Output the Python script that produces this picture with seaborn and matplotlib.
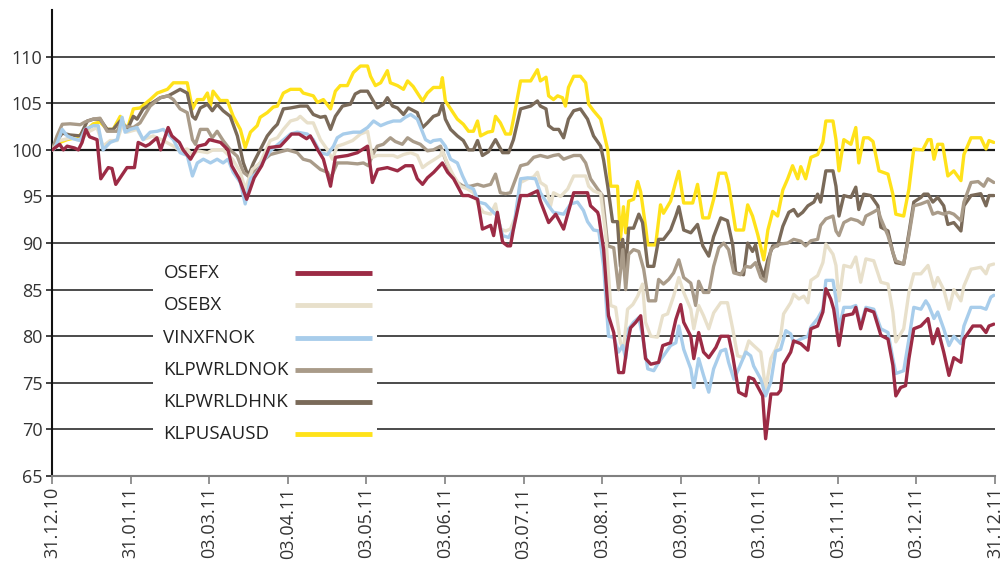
import numpy as np
import pandas as pd
import matplotlib
matplotlib.use('Agg')
import matplotlib.pyplot as plt
import seaborn as sb

# Index values (31.12.10 = 100).
# x is the trading day counted from 31.12.10 (21 trading days per tick).
osefx_day = [0, 2, 3, 4, 6, 7, 8, 9, 10, 12, 13, 15, 16, 17, 20, 22, 23, 25, 26, 28, 29, 31, 32, 34, 35,
             37, 39, 41, 42, 45, 47, 48, 50, 52, 54, 56, 58, 61, 64, 66, 68, 69, 71, 72.5, 74.4, 75.7,
             79, 81.6, 84.3, 85.6, 87, 89.6, 92.3, 94.4, 96.3, 97.6, 99, 100.3, 102, 104.3, 105.7,
             107.3, 109.7, 111.3, 113.7, 115, 117.2, 118, 119, 120.4, 121.7, 122.5, 123.3, 125.2,
             127.1, 129.7, 130.5, 132.7, 134.6, 136.7, 139.4, 141.2, 143.1, 143.9, 145.8, 146.1,
             147.4, 148.7, 150.1, 151.4, 152.7, 153.8, 154.6, 156, 157.3, 158.6, 160, 162.1, 163.2,
             165.3, 166.7, 168, 168.8, 170.7, 171.5, 172.8, 174.1, 175.5, 177.4, 178.7, 180.8,
             181.9, 183.5, 185.4, 186.2, 187.5, 189.9, 190.7, 192.1, 193.9, 194.7, 195.5, 197.4,
             198.2, 200.1, 202, 202.8, 204.6, 206, 206.8, 208.1, 208.9, 210.3, 211.6, 214, 214.8,
             216.1, 217.5, 219.6, 221.5, 223.4, 224.7, 225.5, 226.8, 228.1, 229, 230.3, 232.2,
             234.1, 235.4, 236.7, 238.3, 239.7, 241, 242.9, 243.7, 246.1, 248.2, 249.6, 250.4, 251.7]
osefx = [100.0, 100.6, 100.0, 100.4, 100.2, 100.0, 100.8, 102.2, 101.4, 101.1, 96.9, 98.1, 98.0, 96.3,
         98.1, 98.1, 100.8, 100.4, 100.6, 101.3, 100.0, 102.4, 101.5, 100.8, 100.0, 99.0, 100.4,
         100.6, 101.1, 100.8, 100.0, 98.3, 96.9, 94.7, 97.0, 98.3, 100.25, 100.4, 101.7, 101.7,
         101.2, 101.5, 100.0, 99.0, 96.1, 99.2, 99.4, 99.7, 100.4, 96.5, 97.9, 98.1, 97.75, 98.3,
         98.3, 96.9, 96.3, 97.0, 97.6, 98.6, 97.6, 96.9, 95.1, 95.1, 94.7, 91.5, 91.9, 90.8, 93.3,
         90.1, 89.7, 89.7, 91.5, 95.1, 95.1, 95.6, 94.5, 92.2, 93.1, 91.5, 95.4, 95.4, 95.4, 94.0,
         93.3, 92.9, 89.3, 82.2, 80.4, 76.1, 76.1, 79.3, 80.9, 81.5, 82.2, 77.6, 77.0, 77.2, 79.0,
         79.3, 81.8, 83.4, 81.5, 80.0, 77.6, 80.4, 78.3, 77.7, 78.8, 80.0, 80.0, 77.9, 74.0, 73.6,
         75.6, 75.4, 73.6, 69.0, 73.8, 73.8, 74.2, 77.0, 78.3, 79.5, 79.2, 78.5, 80.8, 81.1, 82.6,
         85.1, 84.0, 82.9, 79.0, 82.2, 82.4, 83.1, 80.8, 82.9, 82.6, 80.1, 79.7, 76.9, 73.6, 74.5,
         74.7, 77.6, 80.8, 81.1, 81.9, 79.2, 80.8, 78.3, 75.8, 77.7, 77.2, 79.7, 81.1, 81.1, 80.4,
         81.1, 81.3]

osebx_day = [0, 2, 5, 7.5, 10, 12, 13.6, 15.5, 17.4, 18.7, 20, 22.7, 24.3, 27, 29.7, 32.4, 34.2, 36.1,
             37.5, 38.8, 41.5, 43, 45.7, 48.2, 50.3, 51.6, 53.5, 55.6, 58.3, 60.2, 61.8, 63.7, 65.5,
             66.3, 68.2, 69.8, 71.7, 73.6, 74.9, 76.2, 77.8, 80.3, 82.4, 84.3, 85.6, 86.9, 88.5, 91.2,
             92.3, 93.9, 95.8, 97.6, 99, 100.3, 101.9, 103.8, 104.3, 105.7, 107.3, 109.1, 111, 112.6,
             114, 115.3, 117.2, 118.5, 119.8, 121.2, 122.5, 123.9, 125.2, 127.1, 128.7, 129.7, 130.5,
             132, 133.2, 134, 135.9, 137.8, 139.4, 141.2, 142.6, 143.4, 144.7, 146.6, 147.9, 149.3,
             150.6, 151.9, 152.7, 153.8, 155.2, 156.5, 157.8, 158.6, 160, 161.8, 163.2, 164.5, 166.1,
             167.5, 168.8, 170.7, 171.5, 172.8, 174.1, 175.5, 176.8, 178.7, 180.5, 181.9, 183.2,
             184.8, 186.2, 187.5, 189.4, 190.7, 192.1, 193.4, 194.7, 195.5, 197.4, 198.2, 199.6,
             200.9, 202, 202.8, 204.6, 206, 206.8, 208.7, 209.5, 210.3, 211.6, 213.5, 214.8, 216.1,
             217.5, 219.6, 221.5, 223.4, 224.7, 225.5, 227.6, 229, 230.3, 232.2, 234.1, 235.7, 236.7,
             238.3, 239.7, 241, 242.9, 243.7, 245.6, 248.2, 249.6, 250.4, 251.7]
osebx = [100.0, 101.0, 101.3, 101.0, 102.0, 102.4, 100.4, 101.0, 101.0, 102.6, 101.9, 102.2, 101.1,
         101.5, 101.0, 100.4, 99.9, 100.1, 99.4, 99.9, 99.7, 100.0, 100.0, 99.0, 97.6, 95.8, 97.9,
         98.6, 101.0, 101.3, 102.2, 103.1, 103.3, 103.6, 102.9, 102.9, 101.1, 100.0, 99.0, 100.4,
         100.6, 101.0, 101.7, 102.0, 99.2, 99.4, 99.4, 99.4, 99.2, 99.5, 99.7, 99.4, 98.1, 98.5,
         98.9, 99.4, 99.9, 98.5, 97.2, 96.1, 95.8, 95.4, 94.0, 93.3, 93.1, 94.2, 91.5, 91.3, 91.5,
         92.9, 96.5, 96.9, 97.1, 97.6, 96.5, 96.1, 94.0, 95.4, 95.0, 95.8, 97.2, 97.2, 97.2, 96.1,
         95.6, 95.3, 91.1, 83.3, 83.1, 79.3, 78.6, 82.9, 83.4, 84.3, 85.6, 81.5, 80.0, 79.9, 82.2,
         82.4, 84.3, 86.3, 84.7, 82.9, 80.8, 83.3, 82.2, 80.8, 82.5, 83.6, 83.6, 80.8, 77.9, 77.7,
         79.5, 79.0, 78.3, 74.3, 77.6, 78.6, 80.0, 82.4, 83.6, 84.5, 84.0, 84.3, 83.6, 86.0, 86.5,
         87.9, 89.9, 88.8, 87.6, 83.8, 87.6, 87.4, 88.5, 85.8, 88.3, 88.1, 85.8, 85.6, 82.6, 79.4,
         80.8, 84.7, 86.7, 86.7, 87.6, 85.25, 86.3, 85.0, 82.9, 85.0, 83.8, 85.4, 87.2, 87.4, 86.7,
         87.6, 87.75]

vinx_day = [0, 0.8, 2.7, 4, 5.6, 7.5, 8.8, 11, 12.3, 13.6, 15.5, 17.4, 18.7, 19.5, 20.9, 22.7, 24.3,
            26.2, 28.1, 29.7, 31, 32.4, 34.2, 36.1, 37.5, 38.8, 40.4, 42.3, 44.1, 45.7, 47, 48.4,
            50.3, 51.6, 53, 54.8, 56.2, 58.3, 61, 63.7, 65.5, 68.2, 69.8, 71.7, 73.6, 75.2, 76.2,
            77.8, 80.5, 82.4, 84.3, 85.9, 87.8, 89.6, 91.2, 93.1, 94.4, 95.8, 97.6, 99, 99.8, 101.1,
            101.9, 103.8, 105.1, 106.5, 108.3, 109.7, 111, 112.6, 114, 115.8, 117.2, 119, 120.4, 122,
            123.3, 125.2, 127.1, 129.2, 130.5, 132.7, 134, 136.7, 138.6, 140.4, 142, 143.1, 144.7,
            146.1, 147.4, 148.7, 150.1, 151.4, 152.5, 153.3, 154.1, 155.4, 156.8, 157.8, 159.2,
            160.8, 162.1, 163.4, 165.3, 166.7, 167.5, 168.8, 170.7, 171.5, 172.8, 174.1, 175.5,
            176.8, 178.7, 180, 180.8, 182.2, 183.5, 185.4, 186.7, 187.5, 189.4, 190.7, 192.1, 193.4,
            194.7, 196.1, 197.4, 198.2, 200.1, 202, 202.8, 204.6, 206, 206.8, 208.7, 209.5, 210.3,
            211.6, 213.5, 214.8, 216.1, 217.5, 219.6, 221.5, 223.4, 224.7, 225.5, 227.6, 229, 230.3,
            232.2, 233.5, 234.3, 235.7, 236.7, 238.3, 239.7, 241, 242.9, 243.7, 245.6, 248.2, 249.6,
            250.9, 251.7]
vinx = [100.0, 100.2, 102.2, 101.5, 101.2, 101.0, 102.2, 102.6, 102.6, 100.0, 100.8, 101.1, 103.5,
        101.9, 102.2, 102.4, 101.1, 101.9, 102.0, 102.2, 101.7, 101.1, 99.7, 99.4, 97.2, 98.6, 99.0,
        98.6, 99.0, 98.6, 99.0, 97.6, 96.5, 94.2, 96.9, 97.6, 98.6, 99.9, 100.8, 101.7, 101.9, 101.7,
        101.1, 99.7, 99.5, 100.4, 101.3, 101.7, 101.9, 101.9, 102.4, 103.1, 102.6, 102.9, 103.1,
        103.1, 103.5, 103.8, 103.3, 101.9, 101.1, 100.8, 101.0, 101.1, 100.4, 99.0, 98.6, 97.2,
        96.1, 95.8, 94.4, 94.2, 93.6, 92.9, 90.8, 90.6, 91.5, 96.9, 97.0, 96.9, 95.4, 94.0, 93.3,
        93.1, 94.2, 94.4, 93.5, 92.3, 91.4, 91.3, 87.5, 80.0, 79.9, 78.3, 79.0, 77.6, 80.8, 81.5,
        82.0, 80.0, 76.5, 76.3, 77.2, 77.9, 79.0, 79.3, 81.1, 78.6, 76.5, 74.5, 77.6, 75.8, 74.0,
        76.5, 78.4, 78.6, 77.2, 75.4, 76.5, 78.3, 77.9, 76.8, 75.4, 73.6, 75.1, 78.4, 78.6, 80.6,
        80.25, 79.3, 79.7, 80.0, 81.0, 81.9, 82.9, 86.0, 86.0, 84.0, 80.8, 83.1, 83.1, 83.3, 81.1,
        83.1, 82.9, 80.8, 80.4, 77.6, 76.0, 76.3, 79.7, 83.1, 82.9, 83.8, 83.3, 81.9, 82.6, 80.8,
        79.0, 80.0, 79.2, 81.1, 83.1, 83.1, 82.9, 84.2, 84.4]

wrld_day = [0, 1.3, 2.7, 4.8, 7.5, 8.8, 11, 12.8, 14.7, 17.4, 18.2, 20, 21.7, 23.5, 26.2, 28.9, 31,
            32.4, 34.2, 36.1, 37.5, 38.3, 39.6, 41.5, 42.8, 44.1, 45.7, 47.6, 49.5, 51.1, 52.4, 53.8,
            55.6, 58.3, 61, 62.9, 65.5, 67.1, 69, 71.7, 73.6, 74.4, 76.2, 78.9, 81.6, 83.2, 84.5,
            85.6, 86.9, 88.5, 90.4, 91.7, 93.6, 95, 96.5, 98.4, 100.3, 101.9, 103.8, 105.1, 106.5,
            108.3, 109.9, 111.8, 113.7, 115.3, 117.2, 118.5, 119.8, 121.2, 122.5, 123.9, 125.2,
            127.1, 128.7, 130.5, 132.4, 134, 135.4, 136.7, 138, 139.4, 141.2, 142.6, 143.9, 145.8,
            147.1, 148.5, 150.1, 151.4, 152.5, 153.3, 154.1, 155.4, 156.8, 158.1, 159.4, 161.3,
            162.1, 163.4, 164.8, 166.1, 167.5, 168.8, 170.7, 172, 172.8, 174.1, 175.5, 176.8, 178.2,
            179.5, 180.8, 182.2, 184, 185.4, 186.7, 188, 189.4, 190.7, 192.1, 193.4, 194.7, 196.6,
            198.2, 200.1, 201.4, 202.8, 204.6, 205.4, 206.8, 208.7, 209.5, 210.3, 211.6, 213.5,
            215.3, 216.7, 217.5, 219.4, 220.7, 221.5, 223.4, 224.7, 225.5, 227.6, 229, 230.3, 232.2,
            234.1, 235.4, 236.7, 238.3, 239.7, 241, 242.9, 243.7, 245.6, 247.5, 249, 250.1, 251.7]
wrld = [100.0, 101.5, 102.75, 102.8, 102.7, 103.0, 103.3, 103.4, 102.0, 102.0, 102.75, 102.5, 102.4,
        102.9, 104.7, 105.6, 105.8, 105.4, 104.4, 104.0, 101.1, 100.6, 102.2, 102.2, 101.3, 102.0,
        101.0, 100.0, 99.3, 97.6, 97.2, 97.6, 98.6, 99.5, 99.8, 100.0, 99.7, 99.0, 98.8, 97.9, 97.6,
        96.9, 98.6, 98.6, 98.5, 98.6, 98.3, 99.4, 100.4, 100.6, 101.3, 100.9, 100.6, 101.3, 100.9,
        100.6, 99.9, 100.0, 100.4, 99.0, 97.6, 96.5, 96.1, 96.1, 96.3, 96.1, 96.3, 97.4, 95.4,
        95.3, 95.4, 96.9, 98.3, 98.5, 99.2, 99.4, 99.2, 99.4, 99.5, 99.0, 99.2, 99.4, 99.4, 98.6,
        96.9, 95.8, 95.1, 89.7, 89.5, 85.0, 89.3, 85.0, 88.8, 89.3, 89.1, 87.2, 83.8, 83.8, 86.1,
        85.6, 86.1, 86.8, 88.2, 86.3, 85.7, 83.3, 85.9, 84.7, 84.7, 87.5, 89.5, 90.0, 89.3, 86.8,
        86.6, 87.5, 87.4, 87.9, 86.3, 85.9, 89.3, 89.7, 89.9, 90.0, 90.4, 90.2, 89.7, 90.25, 90.4,
        91.9, 92.6, 92.9, 91.3, 90.8, 92.2, 92.6, 92.4, 92.0, 92.9, 93.3, 93.6, 92.6, 90.8, 89.0,
        88.1, 87.75, 90.8, 94.0, 94.2, 94.5, 93.1, 93.3, 93.1, 93.3, 93.1, 92.4, 94.4, 96.5, 96.6,
        96.1, 96.9, 96.5]

hnk_day = [0, 1.3, 2.7, 4.8, 7.5, 9.4, 11, 12.8, 14.7, 16.3, 18.2, 20, 21.7, 22.7, 24.3, 27, 28.9,
           31, 32.4, 34.2, 36.1, 37.5, 38.3, 39.6, 41.5, 42.8, 44.1, 45.7, 47.6, 49.5, 51.1, 52.4,
           53.8, 55.6, 57.5, 59.1, 60.2, 61.8, 63.7, 66.3, 68.2, 69.8, 71.7, 73, 74.4, 75.7, 77.6,
           79.7, 81, 82.4, 84.3, 85.6, 86.9, 88.5, 89.6, 91, 92.3, 93.9, 95.2, 97.6, 99, 100.3,
           101.9, 103.3, 104.3, 105.1, 106.5, 108.3, 109.9, 111.3, 112.6, 113.7, 115, 116.6, 118.5,
           120.4, 122, 123.3, 125.2, 127.9, 129.7, 130.5, 132, 132.7, 134, 135.4, 136.7, 138, 139.4,
           141.2, 143.1, 144.7, 146.6, 147.4, 148.5, 149.8, 151.1, 151.9, 152.5, 153.3, 154.1,
           155.4, 156.8, 157.8, 159.2, 160.8, 162.1, 163.4, 165.3, 166.7, 167.5, 168.8, 170.7,
           172.5, 173.9, 175.5, 176.8, 178.7, 180.5, 181.9, 182.7, 184.8, 185.9, 187.2, 188, 188.9,
           190.2, 191.3, 192.6, 193.9, 195.3, 196.9, 198.2, 199.3, 200.6, 202, 203.6, 204.6, 205.4,
           206.8, 208.7, 209.5, 210.3, 211.6, 213.5, 214.8, 215.6, 216.9, 218.8, 220.7, 221.5,
           223.4, 224.7, 225.5, 227.6, 229, 230.3, 232.2, 233, 234.1, 235.4, 236.7, 238.3, 239.4,
           241, 242.9, 243.7, 245.6, 248.2, 249.6, 250.4, 251.7]
hnk = [100.0, 101.0, 101.8, 101.6, 101.5, 103.1, 103.3, 103.3, 102.2, 102.2, 103.1, 102.1, 103.6,
       103.3, 104.4, 105.1, 105.6, 105.8, 106.1, 106.5, 106.1, 103.6, 103.3, 104.5, 104.9, 104.2,
       104.9, 104.2, 103.6, 101.5, 98.6, 97.2, 98.6, 100.0, 101.5, 102.3, 102.75, 104.4, 104.5,
       104.7, 104.7, 103.8, 103.5, 103.6, 102.2, 103.6, 104.7, 104.9, 106.0, 106.3, 106.3, 105.4,
       104.5, 104.9, 105.6, 104.7, 104.5, 103.8, 104.5, 104.0, 102.4, 102.9, 103.6, 103.8, 104.9,
       103.3, 102.2, 101.5, 101.0, 100.0, 100.0, 101.0, 99.4, 99.8, 101.1, 99.7, 99.7, 101.1,
       104.4, 104.7, 105.25, 104.7, 104.4, 102.6, 102.2, 102.2, 101.3, 103.3, 104.2, 104.4, 103.3,
       101.5, 100.4, 98.9, 96.1, 92.3, 92.3, 87.5, 90.4, 87.2, 91.6, 91.6, 93.1, 92.2, 87.5, 87.5,
       90.4, 90.4, 91.4, 92.9, 93.9, 91.4, 91.1, 92.0, 89.7, 88.6, 90.7, 92.7, 92.4, 89.8, 86.8,
       86.6, 90.0, 89.1, 89.8, 87.9, 86.3, 88.2, 89.7, 89.7, 91.8, 93.3, 93.6, 92.9, 93.3, 94.0,
       94.4, 95.25, 94.4, 97.75, 97.75, 96.1, 92.9, 95.1, 94.9, 96.0, 93.6, 95.25, 95.1, 94.0,
       91.7, 91.3, 89.0, 87.9, 87.75, 91.1, 94.4, 94.9, 95.25, 95.25, 94.4, 94.9, 94.0, 92.0,
       92.2, 91.3, 94.0, 95.1, 95.3, 94.0, 95.1, 95.1]

usa_day = [0, 2.1, 4, 6.2, 7.5, 9.4, 11, 12.8, 14.7, 16.3, 18.2, 20, 21.7, 23.5, 26.2, 28.1, 30.8,
           32.4, 36.1, 37.5, 38.8, 40.4, 41.5, 42.3, 43, 44.9, 46.8, 48.4, 50.3, 51.6, 53, 54.8,
           55.6, 57.5, 59.1, 60.2, 61.8, 63.7, 66.3, 67.1, 69.8, 70.9, 72.5, 74.4, 75.7, 77, 78.9,
           80.5, 82.4, 84.3, 85.1, 86.4, 87.8, 89.6, 90.4, 92.3, 93.9, 95, 96.5, 99, 100.3, 101.9,
           103.8, 104.3, 105.1, 106.5, 108.3, 109.9, 111.3, 112.6, 113.7, 114.5, 116.4, 117.7,
           118.5, 119.8, 121.2, 122.5, 123.3, 125.2, 127.9, 129.7, 130.5, 132, 132.7, 134, 135.1,
           136.4, 137.2, 138, 139.4, 141.2, 142.6, 143.4, 144.7, 146.6, 148.5, 149.3, 151.1, 151.9,
           152.7, 153.3, 154.1, 155.4, 156.5, 157.3, 158.6, 159.2, 161.3, 162.6, 163.4, 165.3,
           166.7, 167.5, 168.8, 171.2, 172.5, 173.9, 175.5, 176.8, 178.2, 180, 180.8, 182.7, 184.8,
           185.9, 187.2, 188.6, 190.2, 191.3, 192.6, 193.9, 195.3, 196.6, 197.9, 199.3, 200.1,
           201.4, 202.8, 204.6, 206, 206.8, 208.7, 209.5, 210.3, 211.6, 213.5, 214.8, 215.6, 216.9,
           218.2, 219.4, 221, 223.4, 224.7, 225.5, 227.6, 229, 230.3, 232.7, 234.1, 234.9, 235.7,
           236.7, 238, 239.4, 241, 242.9, 243.7, 245.6, 248.2, 249.6, 250.4, 251.7]
usa = [100.0, 100.8, 101.1, 101.3, 101.6, 102.2, 102.8, 103.0, 102.2, 102.2, 103.6, 102.1, 104.4,
       104.5, 105.4, 106.1, 106.5, 107.2, 107.2, 104.4, 105.4, 105.4, 106.1, 104.7, 106.3, 105.3,
       105.3, 103.6, 102.2, 100.25, 101.9, 102.6, 103.5, 104.0, 104.6, 104.7, 106.1, 106.5, 106.5,
       106.1, 105.8, 105.1, 105.4, 104.4, 106.3, 106.9, 106.9, 108.3, 109.0, 109.0, 107.9, 106.9,
       107.2, 108.5, 107.2, 106.9, 106.5, 107.4, 106.8, 105.25, 106.1, 106.7, 106.7, 107.75,
       105.25, 104.4, 103.3, 102.75, 102.0, 102.0, 103.1, 101.5, 101.9, 102.0, 103.6, 102.9,
       101.7, 101.7, 103.3, 107.4, 107.4, 108.6, 107.4, 107.8, 105.8, 105.4, 105.8, 105.6, 104.7,
       106.7, 107.9, 107.9, 107.2, 104.9, 104.2, 103.3, 100.0, 96.1, 96.1, 90.4, 93.9, 91.1, 94.5,
       94.7, 96.6, 95.5, 91.8, 89.8, 89.8, 94.1, 93.2, 94.5, 96.6, 97.7, 94.3, 94.3, 96.3, 92.7,
       92.7, 94.7, 97.5, 97.5, 96.3, 91.4, 91.4, 94.1, 92.9, 90.9, 88.2, 91.4, 93.4, 92.9, 95.7,
       96.9, 98.3, 96.9, 98.2, 96.9, 99.2, 99.5, 100.8, 103.1, 103.1, 101.1, 97.75, 101.1, 100.6,
       102.4, 98.6, 101.3, 101.3, 100.9, 97.75, 97.4, 95.25, 93.1, 92.9, 95.8, 100.1, 100.0,
       101.1, 101.1, 99.0, 100.6, 100.6, 97.2, 97.75, 96.7, 99.5, 101.3, 101.3, 100.1, 101.0,
       100.8]

tick_days = [0, 21, 42, 63, 84, 105, 126, 147, 168, 189, 210, 231, 252]
tick_labels = ['31.12.10', '31.01.11', '03.03.11', '03.04.11', '03.05.11', '03.06.11', '03.07.11',
               '03.08.11', '03.09.11', '03.10.11', '03.11.11', '03.12.11', '31.12.11']
y_ticks = [65, 70, 75, 80, 85, 90, 95, 100, 105, 110]

names = ['OSEFX', 'OSEBX', 'VINXFNOK', 'KLPWRLDNOK', 'KLPWRLDHNK', 'KLPUSAUSD']
colours = ['#9c2b45', '#e8e0cb', '#a8cdeb', '#a99b89', '#7a6a59', '#ffe21a']
series = [(osefx_day, osefx), (osebx_day, osebx), (vinx_day, vinx),
          (wrld_day, wrld), (hnk_day, hnk), (usa_day, usa)]

sb.set_style('white')
plt.rcParams['font.family'] = ['Open Sans', 'DejaVu Sans']

fig = plt.figure(figsize=(10.03, 5.62), dpi=100)
ax = fig.add_axes([0.052, 0.153, 0.940, 0.829])

# horizontal grid first so the lines sit on top
for y in y_ticks[1:]:
    ax.axhline(y, color='#1a1a1a', lw=1.6 if y == 100 else 1.1, zorder=1)

# draw back to front: yellow first, red last
draw_order = [5, 4, 3, 1, 2, 0]
for i in draw_order:
    days, vals = series[i]
    df = pd.DataFrame({'day': days, 'value': vals})
    sb.lineplot(data=df, x='day', y='value', color=colours[i], lw=2.4,
                estimator=None, sort=False, ax=ax, zorder=3 + draw_order.index(i))

ax.set_xlim(0, 252)
ax.set_ylim(65, 115)
ax.set_xticks(tick_days)
ax.set_xticklabels(tick_labels, rotation=90)
ax.set_yticks(y_ticks)
ax.set_xlabel('')
ax.set_ylabel('')
ax.tick_params(axis='x', direction='out', length=6, width=1.2, color='#808080',
               labelsize=13, labelcolor='#333333', pad=2)
ax.tick_params(axis='y', direction='out', length=4, width=1.2, color='#222222',
               labelsize=13, labelcolor='#333333', pad=3)
ax.tick_params(bottom=True, left=True)
for side in ['top', 'right']:
    ax.spines[side].set_visible(False)
ax.spines['left'].set_color('#111111')
ax.spines['left'].set_linewidth(1.5)
ax.spines['bottom'].set_color('#808080')
ax.spines['bottom'].set_linewidth(1.5)

# legend: white box hiding the grid, left-aligned names with a colour bar on the right
ax.add_patch(plt.Rectangle((0.107, 0.056), 0.238, 0.418, transform=ax.transAxes,
                           facecolor='white', edgecolor='none', zorder=2))
leg_y = [0.436, 0.367, 0.297, 0.228, 0.159, 0.090]
for name, col, y in zip(names, colours, leg_y):
    ax.text(0.118, y, name, transform=ax.transAxes, ha='left', va='center',
            fontsize=13.5, color='#222222', zorder=20)
    ax.plot([0.258, 0.339], [y, y], transform=ax.transAxes, color=col, lw=3.5,
            solid_capstyle='butt', zorder=20)

plt.savefig('out.png', dpi=100)
